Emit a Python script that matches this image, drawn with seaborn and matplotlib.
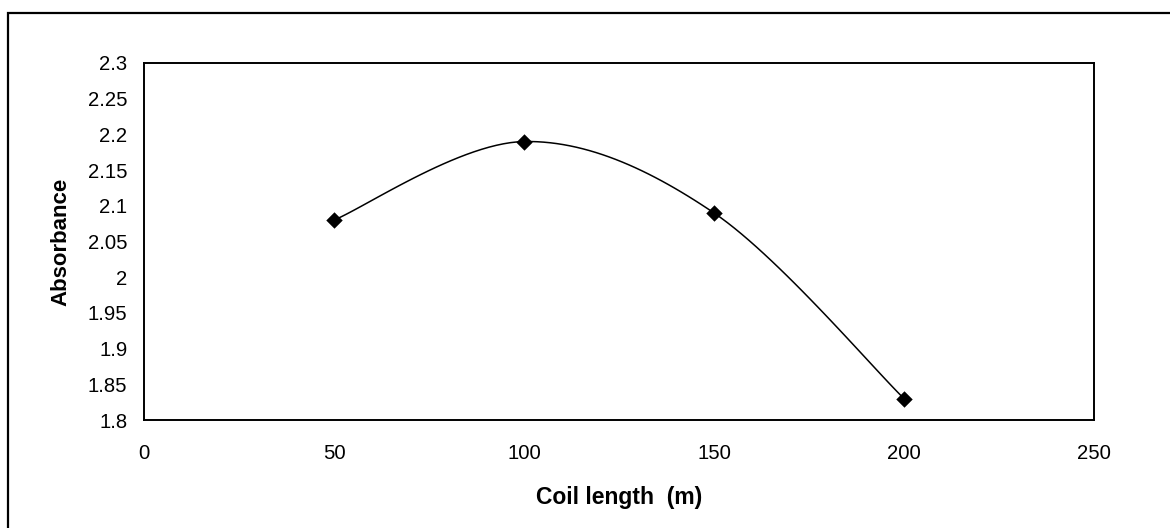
import numpy as np
import pandas as pd
import matplotlib
matplotlib.use("Agg")
import matplotlib.pyplot as plt
import matplotlib.patches as mpatches
import seaborn as sns

coil_length = [50, 100, 150, 200]
absorbance = [2.08, 2.19, 2.09, 1.83]
x_ticks = [0, 50, 100, 150, 200, 250]
y_ticks = [1.8, 1.85, 1.9, 1.95, 2.0, 2.05, 2.1, 2.15, 2.2, 2.25, 2.3]
y_tick_labels = ["1.8", "1.85", "1.9", "1.95", "2", "2.05", "2.1", "2.15", "2.2", "2.25", "2.3"]


def excel_smooth(xs, ys, n=30):
    # Bezier smoothing similar to spreadsheet "smoothed line"
    P = np.column_stack([xs, ys]).astype(float)
    m = len(P)
    out = []
    for i in range(m - 1):
        p0 = P[i - 1] if i > 0 else P[i]
        p1 = P[i]
        p2 = P[i + 1]
        p3 = P[i + 2] if i + 2 < m else P[i + 1]
        c1 = p1 + (p2 - p0) / 6.0
        c2 = p2 - (p3 - p1) / 6.0
        t = np.linspace(0, 1, n)[:, None]
        seg = ((1 - t) ** 3) * p1 + 3 * ((1 - t) ** 2) * t * c1 + 3 * (1 - t) * t ** 2 * c2 + t ** 3 * p2
        if i > 0:
            seg = seg[1:]
        out.append(seg)
    out = np.vstack(out)
    return out[:, 0], out[:, 1]


sns.set_theme(style="white")
plt.rcParams["font.family"] = ["Liberation Sans", "DejaVu Sans"]

fig = plt.figure(figsize=(11.7, 5.28), dpi=100)
ax = fig.add_axes([144 / 1170, 1 - 420 / 528, 950 / 1170, 357 / 528])

sx, sy = excel_smooth(coil_length, absorbance)
smooth_df = pd.DataFrame({"x": sx, "y": sy})
sns.lineplot(data=smooth_df, x="x", y="y", sort=False, estimator=None,
             color="black", linewidth=1.1, ax=ax)
pts = pd.DataFrame({"Coil length (m)": coil_length, "Absorbance": absorbance})
sns.scatterplot(data=pts, x="Coil length (m)", y="Absorbance", marker="D",
                s=70, color="black", edgecolor="black", linewidth=0, ax=ax, zorder=5)

ax.set_xlim(0, 250)
ax.set_ylim(1.8, 2.3)
ax.set_xticks(x_ticks)
ax.set_xticklabels([str(v) for v in x_ticks])
ax.set_yticks(y_ticks)
ax.set_yticklabels(y_tick_labels)
ax.tick_params(axis="both", which="major", direction="out", length=3, width=1,
               color="black", labelsize=14.6, labelcolor="black")
ax.tick_params(axis="y", pad=9)
ax.tick_params(axis="x", pad=14.5)
for sp in ax.spines.values():
    sp.set_visible(True)
    sp.set_color("black")
    sp.set_linewidth(1.4)

ax.set_xlabel("Coil length  (m)", fontsize=16.5, fontweight="bold", color="black")
ax.set_ylabel("Absorbance", fontsize=16, fontweight="bold", color="black")
ax.xaxis.set_label_coords(0.5, -0.185)
ax.yaxis.set_label_coords(-0.0762, 0.5)

# outer chart border (left and top visible)
rect = mpatches.Rectangle((8 / 1170, -0.2), 1.5, 1 - 13 / 528 + 0.2,
                          transform=fig.transFigure, fill=False,
                          edgecolor="black", linewidth=1.6, clip_on=False)
fig.patches.append(rect)

fig.savefig("out.png", dpi=100, facecolor="white")
